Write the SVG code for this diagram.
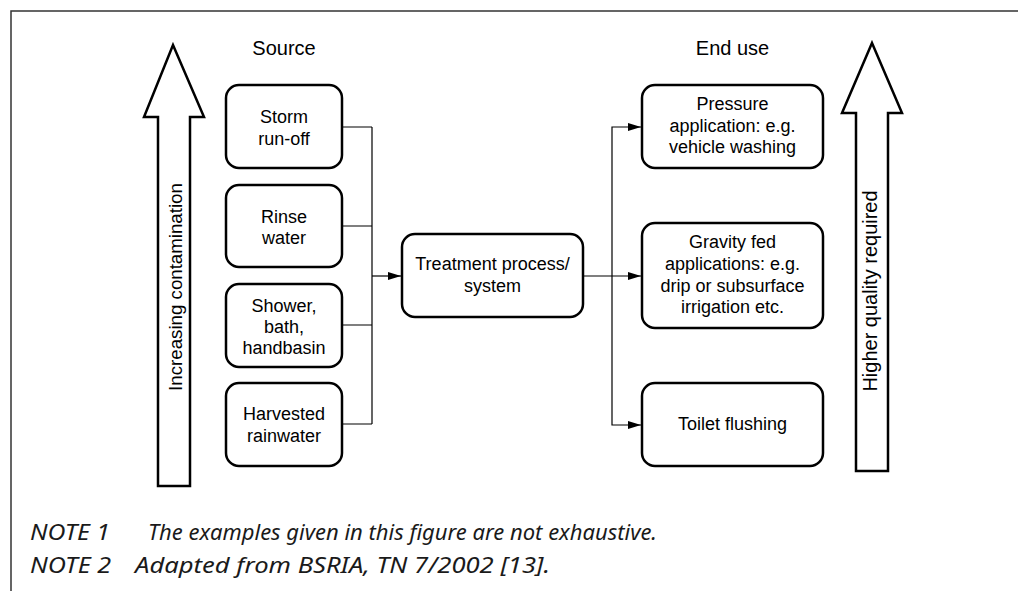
<svg xmlns="http://www.w3.org/2000/svg" width="1018" height="591" viewBox="0 0 1018 591">
<style>
.box{fill:#fff;stroke:#000;stroke-width:2.5}
.t{font-family:"Liberation Sans",Arial,sans-serif;font-size:18px;fill:#000;text-anchor:middle}
.h{font-family:"Liberation Sans",Arial,sans-serif;font-size:20px;fill:#000;text-anchor:middle}
.c{fill:none;stroke:#000;stroke-width:1.2}
.big{fill:#fff;stroke:#000;stroke-width:2.5;stroke-linejoin:miter}
.n{font-family:"Noto Sans","Open Sans",sans-serif;font-style:italic;font-size:21px;fill:#1a1a1a}
</style>
<defs>
<marker id="ah" viewBox="0 0 13 8" refX="13" refY="4" markerWidth="13" markerHeight="8" markerUnits="userSpaceOnUse" orient="auto">
<path d="M0,0 L13,4 L0,8 Z" fill="#000"/>
</marker>
</defs>
<rect width="1018" height="591" fill="#fff"/>
<path d="M11,591 V11 H1018" fill="none" stroke="#333" stroke-width="1.5"/>

<g id="arrow-contamination">
<path class="big" d="M173,45 L204,117 L190,117 L190,486 L158,486 L158,117 L144,117 Z"/>
<text class="h" transform="translate(182,287) rotate(-90)" style="font-size:18.7px">Increasing contamination</text>
</g>
<g id="arrow-quality">
<path class="big" d="M872,43 L902,113 L888,113 L888,471 L856,471 L856,113 L842,113 Z"/>
<text class="h" transform="translate(877,291) rotate(-90)" style="font-size:20px">Higher quality required</text>
</g>

<g id="label-source"><text class="h" x="284" y="55">Source</text></g>
<g id="label-enduse"><text class="h" x="732.5" y="55">End use</text></g>

<g id="connectors">
<path class="c" d="M342,127 H372 M342,226 H372 M342,325 H372 M342,424 H372 M372,127 V424"/>
<path class="c" d="M372,276 H401" marker-end="url(#ah)"/>
<path class="c" d="M583,276 H641" marker-end="url(#ah)"/>
<path class="c" d="M612,276 V127 H641" marker-end="url(#ah)"/>
<path class="c" d="M612,276 V425 H641" marker-end="url(#ah)"/>
</g>

<g id="storm">
<rect class="box" x="226" y="85" width="116" height="83" rx="13"/>
<text class="t" x="284" y="123">Storm</text>
<text class="t" x="284" y="144.5">run-off</text>
</g>
<g id="rinse">
<rect class="box" x="226" y="185" width="116" height="82" rx="13"/>
<text class="t" x="284" y="222.5">Rinse</text>
<text class="t" x="284" y="243.5">water</text>
</g>
<g id="shower">
<rect class="box" x="226" y="284" width="116" height="83" rx="13"/>
<text class="t" x="284" y="311.5">Shower,</text>
<text class="t" x="284" y="332.5">bath,</text>
<text class="t" x="284" y="353.5">handbasin</text>
</g>
<g id="harvested">
<rect class="box" x="226" y="383" width="116" height="83" rx="13"/>
<text class="t" x="284" y="420">Harvested</text>
<text class="t" x="284" y="441.5">rainwater</text>
</g>
<g id="treatment">
<rect class="box" x="402" y="234" width="181" height="83" rx="13"/>
<text class="t" x="492.5" y="270">Treatment process/</text>
<text class="t" x="492.5" y="291.5">system</text>
</g>
<g id="pressure">
<rect class="box" x="642" y="85" width="181" height="83" rx="13"/>
<text class="t" x="732.5" y="110">Pressure</text>
<text class="t" x="732.5" y="131.5">application: e.g.</text>
<text class="t" x="732.5" y="153">vehicle washing</text>
</g>
<g id="gravity">
<rect class="box" x="642" y="223" width="181" height="105" rx="13"/>
<text class="t" x="732.5" y="247.5">Gravity fed</text>
<text class="t" x="732.5" y="269.5">applications: e.g.</text>
<text class="t" x="732.5" y="291.5">drip or subsurface</text>
<text class="t" x="732.5" y="313">irrigation etc.</text>
</g>
<g id="toilet">
<rect class="box" x="642" y="383" width="181" height="83" rx="13"/>
<text class="t" x="732.5" y="429.5">Toilet flushing</text>
</g>

<g id="notes">
<text class="n" x="30" y="540" textLength="80" lengthAdjust="spacingAndGlyphs">NOTE 1</text>
<text class="n" x="148" y="540" textLength="509" lengthAdjust="spacingAndGlyphs">The examples given in this figure are not exhaustive.</text>
<text class="n" x="30" y="573" textLength="81" lengthAdjust="spacingAndGlyphs">NOTE 2</text>
<text class="n" x="135" y="573" textLength="415" lengthAdjust="spacingAndGlyphs">Adapted from BSRIA, TN 7/2002 [13].</text>
</g>
</svg>
